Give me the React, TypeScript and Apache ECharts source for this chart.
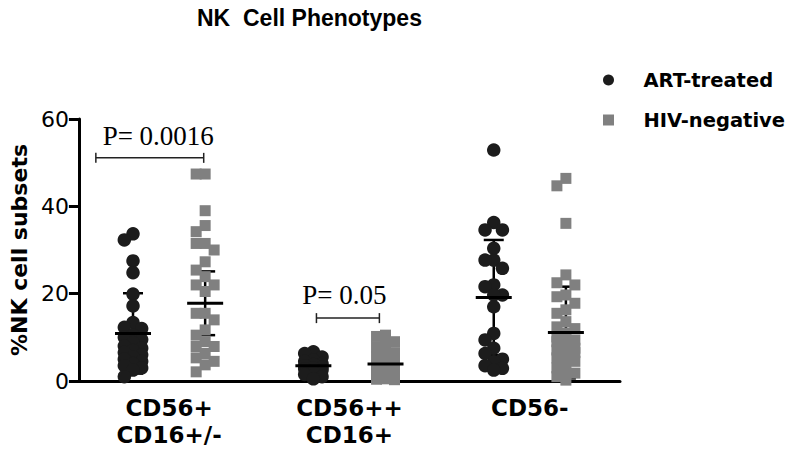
import React, { useEffect, useRef } from "react";
import * as echarts from "echarts";

// ---- data ----
const categories = ["CD56+\nCD16+/-", "CD56++\nCD16+", "CD56-"];
const seriesNames = ["ART-treated", "HIV-negative"];

const artCD56p = [33.7, 32.3, 27.5, 24.8, 19.9, 17.2, 13.4, 12.3, 12.0, 10.5, 10, 9.5, 8.8, 8, 7.5, 7, 6.5, 6, 5.5, 5, 4.5, 4, 3.5, 3, 2.5, 1.0];
const hivCD56p = [47.4, 47.4, 39, 35.6, 34.2, 31.5, 31.5, 30, 27.3, 25.4, 23.9, 22, 22, 20.5, 15.5, 15.5, 14, 11.7, 10.5, 9, 7.9, 7.9, 6.3, 5.3, 4.5, 3.7, 2.1];
const artCD56pp = [6.7, 6.3, 5.5, 4.8, 4.5, 4, 3.8, 3.5, 3.2, 3, 2.8, 2.5, 2, 1.5, 1, 0.5];
const hivCD56pp = [10.5, 10.2, 9, 8.2, 7.8, 6.5, 6.2, 5.5, 4.8, 4, 3.5, 3, 2.5, 2.2, 2, 1.8, 1.5, 1.2, 1, 0.8, 0.6, 0.5, 0.4, 0.3];
const artCD56m = [52.9, 36.3, 34.6, 34.6, 30.4, 27.7, 27.7, 25.8, 22, 21.6, 19.7, 19.7, 17, 10.9, 9.4, 7.5, 6.3, 5, 4.4, 3.5, 2.9, 2.5];
const hivCD56m = [46.4, 44.7, 36.1, 24.3, 22.5, 22, 19.7, 19.3, 17.8, 16.3, 15.5, 13.6, 12.4, 12, 11, 10.1, 9.4, 9.4, 9, 8.5, 7.5, 7.1, 7.1, 6.5, 6, 5.3, 4.5, 4, 3, 1.8, 1.8, 1, 0.2];

const artMean = [10.9, 3.5, 19.1];
const artSD = [9.2, 1.8, 13.2];
const hivMean = [17.8, 3.9, 11.1];
const hivSD = [7.3, 2.6, 10.5];

const yMin = 0;
const yMax = 60;
const yInterval = 20;

const pLabels = ["P= 0.0016", "P= 0.05"];

// ---- layout (not data) ----
const GRID = { left: 78, right: 171, top: 119, bottom: 74 };
const PX_PER_X = (791 - GRID.left - GRID.right) / 3;
const PX_PER_Y = (455 - GRID.top - GRID.bottom) / (yMax - yMin);
const GROUP_OFFSET = 0.2;
// bracket annotations in axis units: [x1, x2, y, textX, textY]
const bracketSpec = [
  [0.094, 0.692, 51.1, 0.44, 56.1],
  [1.317, 1.666, 14.4, 1.472, 19.7],
];

function swarm(values: number[], center: number, stepPx: number, minDist: number) {
  const sorted = [...values].sort((a, b) => b - a);
  const placed: { xp: number; yp: number }[] = [];
  const out: number[][] = [];
  const cands = [0, -1, 1];
  for (const v of sorted) {
    const yp = v * PX_PER_Y;
    let best = 0;
    let bestD = -1;
    for (const c of cands) {
      const xp = c * stepPx;
      let d = Infinity;
      for (const p of placed) d = Math.min(d, Math.hypot(p.xp - xp, p.yp - yp));
      if (d >= minDist) {
        best = c;
        break;
      }
      if (d > bestD) {
        bestD = d;
        best = c;
      }
    }
    placed.push({ xp: best * stepPx, yp });
    out.push([center + (best * stepPx) / PX_PER_X, v]);
  }
  return out;
}

const artGroups = [artCD56p, artCD56pp, artCD56m];
const hivGroups = [hivCD56p, hivCD56pp, hivCD56m];

function whiskerRender(params: any, api: any) {
  const x = api.value(0);
  const m = api.value(1);
  const sd = api.value(2);
  const pm = api.coord([x, m]);
  const pt = api.coord([x, m + sd]);
  const pb = api.coord([x, Math.max(0, m - sd)]);
  const s = { stroke: "#000", lineWidth: 2.5 };
  return {
    type: "group",
    children: [
      { type: "line", shape: { x1: pm[0], y1: pt[1], x2: pm[0], y2: pb[1] }, style: s },
      { type: "line", shape: { x1: pm[0] - 10, y1: pt[1], x2: pm[0] + 10, y2: pt[1] }, style: s },
      { type: "line", shape: { x1: pm[0] - 10, y1: pb[1], x2: pm[0] + 10, y2: pb[1] }, style: s },
    ],
  };
}

function meanRender(params: any, api: any) {
  const pm = api.coord([api.value(0), api.value(1)]);
  return {
    type: "line",
    shape: { x1: pm[0] - 18, y1: pm[1], x2: pm[0] + 18, y2: pm[1] },
    style: { stroke: "#000", lineWidth: 3 },
  };
}

function bracketRender(params: any, api: any) {
  const a = api.coord([api.value(0), api.value(2)]);
  const b = api.coord([api.value(1), api.value(2)]);
  const t = api.coord([api.value(3), api.value(4)]);
  const s = { stroke: "#222", lineWidth: 1.5 };
  return {
    type: "group",
    children: [
      { type: "line", shape: { x1: a[0], y1: a[1], x2: b[0], y2: b[1] }, style: s },
      { type: "line", shape: { x1: a[0], y1: a[1] - 5, x2: a[0], y2: a[1] + 5 }, style: s },
      { type: "line", shape: { x1: b[0], y1: b[1] - 5, x2: b[0], y2: b[1] + 5 }, style: s },
      {
        type: "text",
        x: t[0],
        y: t[1],
        style: {
          text: pLabels[params.dataIndex],
          fontFamily: "Liberation Serif",
          fontSize: 27,
          fill: "#000",
          align: "center",
          verticalAlign: "middle",
        },
      },
    ],
  };
}

export default function App() {
  const ref = useRef<HTMLDivElement>(null);
  useEffect(() => {
    document.body.style.margin = "0";
    if (!ref.current) return;
    const chart = echarts.init(ref.current, null, { renderer: "svg" });

    const artPoints: number[][] = [];
    const hivPoints: number[][] = [];
    artGroups.forEach((g, i) => artPoints.push(...swarm(g, i + 0.5 - GROUP_OFFSET, 8.7, 11)));
    hivGroups.forEach((g, i) => hivPoints.push(...swarm(g, i + 0.5 + GROUP_OFFSET, 9, 10)));

    const artErr = artMean.map((m, i) => [i + 0.5 - GROUP_OFFSET, m, artSD[i]]);
    const hivErr = hivMean.map((m, i) => [i + 0.5 + GROUP_OFFSET, m, hivSD[i]]);
    const errData = [...artErr, ...hivErr];

    chart.setOption({
      animation: false,
      title: {
        text: "NK  Cell Phenotypes",
        left: 197,
        top: 6,
        padding: 0,
        textStyle: { fontFamily: "Liberation Sans", fontWeight: "bold", fontSize: 23, color: "#000" },
      },
      legend: {
        data: [
          { name: seriesNames[0], icon: "circle" },
          { name: seriesNames[1], icon: "path://M0 0H10V10H0Z" },
        ],
        orient: "vertical",
        left: 603,
        top: 70,
        itemWidth: 60,
        itemHeight: 11,
        itemGap: 20,
        padding: 0,
        symbolKeepAspect: true,
        textStyle: { fontFamily: "DejaVu Sans", fontWeight: "bold", fontSize: 19.5, color: "#000" },
      },
      grid: { ...GRID, containLabel: false },
      xAxis: [
        {
          type: "category",
          data: categories,
          boundaryGap: true,
          axisLine: { lineStyle: { color: "#000", width: 3 } },
          axisTick: { alignWithLabel: true, length: 8, lineStyle: { color: "#000", width: 3 } },
          axisLabel: {
            fontFamily: "DejaVu Sans",
            fontWeight: "bold",
            fontSize: 23,
            lineHeight: 27,
            color: "#000",
            margin: 13,
          },
          splitLine: { show: false },
        },
        { type: "value", min: 0, max: 3, show: false },
      ],
      yAxis: {
        type: "value",
        min: yMin,
        max: yMax,
        interval: yInterval,
        name: "%NK cell subsets",
        nameLocation: "middle",
        nameGap: 38,
        nameTextStyle: { fontFamily: "DejaVu Sans", fontWeight: "bold", fontSize: 22, color: "#000" },
        axisLine: { show: true, lineStyle: { color: "#000", width: 3 } },
        axisTick: { show: true, length: 10, lineStyle: { color: "#000", width: 3 } },
        axisLabel: { fontFamily: "DejaVu Sans", fontSize: 22, color: "#000", margin: 10 },
        splitLine: { show: false },
      },
      series: [
        {
          name: "whiskers",
          type: "custom",
          xAxisIndex: 1,
          renderItem: whiskerRender,
          encode: { x: 0, y: 1 },
          data: errData,
          z: 1,
          silent: true,
        },
        {
          name: seriesNames[0],
          type: "scatter",
          xAxisIndex: 1,
          symbol: "circle",
          symbolSize: 13.5,
          itemStyle: { color: "#1c1c1c", opacity: 1 },
          data: artPoints,
          z: 2,
        },
        {
          name: seriesNames[1],
          type: "scatter",
          xAxisIndex: 1,
          symbol: "rect",
          symbolSize: 11,
          itemStyle: { color: "#808080", opacity: 1 },
          data: hivPoints,
          z: 2,
        },
        {
          name: "means",
          type: "custom",
          xAxisIndex: 1,
          renderItem: meanRender,
          encode: { x: 0, y: 1 },
          data: errData,
          z: 4,
          silent: true,
        },
        {
          name: "brackets",
          type: "custom",
          xAxisIndex: 1,
          renderItem: bracketRender,
          encode: { x: 0, y: 2 },
          data: bracketSpec,
          z: 5,
          clip: false,
          silent: true,
        },
      ],
    });
    return () => chart.dispose();
  }, []);
  return <div ref={ref} style={{ width: 791, height: 455 }} />;
}
